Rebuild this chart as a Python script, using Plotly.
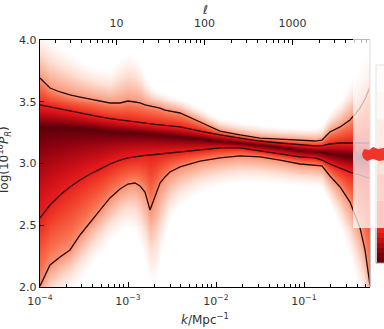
import numpy as np
import plotly.graph_objects as go

# ---------------- data ----------------
k = [1.00e-4, 1.30e-4, 1.69e-4, 2.19e-4, 2.85e-4, 3.70e-4, 4.81e-4, 6.24e-4, 8.11e-4,
     1.00e-3, 1.20e-3, 1.37e-3, 1.56e-3, 1.78e-3, 2.03e-3, 2.31e-3, 2.63e-3, 3.00e-3,
     3.90e-3, 6.58e-3, 1.11e-2, 1.87e-2, 3.16e-2, 5.34e-2, 9.01e-2, 0.133, 0.160, 0.197,
     0.257, 0.333, 0.433, 0.493, 0.562]

# upper / lower contours (log(10^10 P_R)) : 1 sigma, 2 sigma and where shading fades (3 sigma)
upper3 = [4.081, 4.016, 3.960, 3.903, 3.838, 3.798, 3.773, 3.757, 3.854, 3.903, 3.870, 3.806,
          3.709, 3.644, 3.611, 3.595, 3.579, 3.563, 3.530, 3.449, 3.368, 3.336, 3.312, 3.296,
          3.287, 3.287, 3.304, 3.417, 3.514, 3.660, 3.822, 3.903, 3.960]
upper2 = [3.692, 3.611, 3.579, 3.555, 3.538, 3.522, 3.506, 3.490, 3.490, 3.506, 3.498, 3.490,
          3.474, 3.466, 3.457, 3.449, 3.433, 3.425, 3.409, 3.336, 3.263, 3.231, 3.206, 3.198,
          3.190, 3.182, 3.190, 3.255, 3.296, 3.352, 3.449, 3.522, 3.619]
upper1 = [3.474, 3.457, 3.441, 3.425, 3.409, 3.393, 3.377, 3.364, 3.352, 3.344, 3.336, 3.328,
          3.324, 3.320, 3.316, 3.312, 3.308, 3.304, 3.296, 3.263, 3.231, 3.206, 3.182, 3.166,
          3.150, 3.142, 3.142, 3.158, 3.166, 3.166, 3.166, 3.166, 3.166]
median = [3.296, 3.296, 3.296, 3.292, 3.287, 3.279, 3.271, 3.263, 3.255, 3.252, 3.249, 3.247,
          3.243, 3.239, 3.235, 3.231, 3.227, 3.223, 3.215, 3.198, 3.182, 3.166, 3.150, 3.134,
          3.109, 3.098, 3.093, 3.081, 3.069, 3.061, 3.057, 3.053, 3.053]
lower1 = [2.559, 2.664, 2.745, 2.810, 2.866, 2.915, 2.955, 2.996, 3.028, 3.045, 3.053, 3.061,
          3.065, 3.069, 3.073, 3.077, 3.081, 3.085, 3.093, 3.109, 3.126, 3.126, 3.101, 3.077,
          3.053, 3.045, 3.028, 2.996, 2.964, 2.931, 2.907, 2.891, 2.883]
lower2 = [2.008, 2.178, 2.243, 2.300, 2.421, 2.526, 2.623, 2.721, 2.794, 2.834, 2.842, 2.818,
          2.769, 2.623, 2.737, 2.842, 2.891, 2.931, 2.972, 3.020, 3.045, 3.061, 3.053, 3.028,
          2.996, 2.988, 2.980, 2.899, 2.810, 2.688, 2.478, 2.300, 2.016]
lower3 = [1.733, 1.814, 1.895, 1.960, 2.041, 2.154, 2.259, 2.364, 2.445, 2.478, 2.445, 2.340,
          2.178, 2.016, 2.016, 2.219, 2.421, 2.543, 2.664, 2.769, 2.818, 2.850, 2.850, 2.834,
          2.818, 2.810, 2.802, 2.664, 2.478, 2.235, 1.935, 1.814, 1.652]

k_ticks = [1e-4, 1e-3, 1e-2, 1e-1]
k_ticktext = ["10<sup>−4</sup>", "10<sup>−3</sup>", "10<sup>−2</sup>", "10<sup>−1</sup>"]
ell_ticks = [10, 100, 1000]
ell_ticktext = ["10", "100", "1000"]
y_ticks = [2.0, 2.5, 3.0, 3.5, 4.0]
y_ticktext = ["2.0", "2.5", "3.0", "3.5", "4.0"]
ell_per_k = 10 ** 4.13
k_range = [1e-4, 0.562]

# ---------------- density (sigma level) from contours ----------------
lk = np.log10(k)
xr = np.log10(k_range)
xs = np.linspace(xr[0], xr[1], 332)
ys = np.linspace(2.0, 4.0, 250)
cols = {}
for name, arr in [("u3", upper3), ("u2", upper2), ("u1", upper1), ("m", median),
                  ("l1", lower1), ("l2", lower2), ("l3", lower3)]:
    cols[name] = np.interp(xs, lk, np.array(arr))
Z = np.zeros((len(ys), len(xs)))
for j in range(len(xs)):
    m = cols["m"][j]
    up = np.interp(ys, [m, cols["u1"][j], cols["u2"][j], cols["u3"][j]], [0, 1, 2, 3])
    lo = np.interp(ys, [cols["l3"][j], cols["l2"][j], cols["l1"][j], m], [3, 2, 1, 0])
    Z[:, j] = np.where(ys >= m, up, lo)

cscale = [[0.0, "#5a0008"], [0.06, "#7e000f"], [0.15, "#ac0812"], [0.25, "#d41219"],
          [0.333, "#e8221c"], [0.45, "#f2472f"], [0.58, "#f7704f"], [0.667, "#f99476"],
          [0.75, "#fbb9a3"], [0.85, "#fde0d5"], [0.93, "#fff3ef"], [1.0, "#ffffff"]]

fig = go.Figure()
fig.add_trace(go.Heatmap(x=xs, y=ys, z=Z, zmin=0, zmax=3, colorscale=cscale,
                         showscale=False, zsmooth="best", hoverinfo="skip"))
for arr in [upper2, upper1, lower1, lower2]:
    fig.add_trace(go.Scatter(x=lk, y=arr, mode="lines",
                             line=dict(color="#2a0606", width=1.3), hoverinfo="skip"))
# dummy trace to carry top axis
fig.add_trace(go.Scatter(x=[np.log10(ell_ticks[1])], y=[3.0], xaxis="x2", mode="markers",
                         marker=dict(opacity=0), hoverinfo="skip"))


def minor_vals(lo, hi):
    out = []
    for e in range(-6, 6):
        for mm in range(2, 10):
            v = np.log10(mm * 10.0 ** e)
            if lo < v < hi:
                out.append(float(v))
    return out


tickfont = dict(family="DejaVu Sans", size=11, color="#333333")
fig.update_layout(
    width=384, height=329,
    margin=dict(l=40, r=14, t=40, b=42),
    paper_bgcolor="white", plot_bgcolor="white", showlegend=False,
    font=dict(family="DejaVu Sans", size=11, color="#333333"),
    xaxis=dict(range=list(xr), tickvals=list(np.log10(k_ticks)), ticktext=k_ticktext,
               ticks="inside", ticklen=5, tickwidth=1, tickcolor="black",
               showline=True, linecolor="black", linewidth=1.3, mirror=False,
               showgrid=False, zeroline=False, tickfont=tickfont, automargin=False,
               ticklabelstandoff=3,
               minor=dict(tickmode="array", tickvals=minor_vals(xr[0], xr[1]),
                          ticks="inside", ticklen=3, tickcolor="black", showgrid=False)),
    xaxis2=dict(overlaying="x", side="top", anchor="y",
                range=[xr[0] + np.log10(ell_per_k), xr[1] + np.log10(ell_per_k)],
                tickvals=list(np.log10(ell_ticks)), ticktext=ell_ticktext,
                ticks="inside", ticklen=5, tickwidth=1, tickcolor="black",
                showline=True, linecolor="black", linewidth=1.3, automargin=False,
                showgrid=False, zeroline=False, tickfont=tickfont, ticklabelstandoff=7,
                minor=dict(tickmode="array",
                           tickvals=minor_vals(xr[0] + np.log10(ell_per_k), xr[1] + np.log10(ell_per_k)),
                           ticks="inside", ticklen=3, tickcolor="black", showgrid=False)),
    yaxis=dict(range=[2.0, 4.0], tickvals=y_ticks, ticktext=y_ticktext,
               ticks="inside", ticklen=4, tickcolor="black", automargin=False,
               showline=True, linecolor="black", linewidth=1.3, mirror=False,
               showgrid=False, zeroline=False, tickfont=tickfont),
)

W, X0, H, Y0 = 330.0, 40.0, 247.0, 287.0


def px(x):
    return (x - X0) / W


def py(y):
    return (Y0 - y) / H


shapes = []
# right spine (grey)
shapes.append(dict(type="line", xref="paper", yref="paper", x0=1, x1=1, y0=0, y1=1,
                   line=dict(color="#9c9c9c", width=1.2), layer="above"))
# partial colour bar at the right edge
cb_cols = ["#fff5f0", "#fee0d2", "#fcbba1", "#fc9272", "#fb6a4a", "#ef3b2c"]
top, split, bot = 65.0, 228.0, 263.0
step = (split - top) / len(cb_cols)
for i, c in enumerate(cb_cols):
    shapes.append(dict(type="rect", xref="paper", yref="paper", x0=px(377), x1=px(392),
                       y0=py(top + (i + 1) * step), y1=py(top + i * step),
                       fillcolor=c, line=dict(width=0), layer="above"))
cb_dark = ["#e8281e", "#d8181a", "#c40f16", "#a80a12", "#8c0610", "#76020e", "#67000d"]
step2 = (bot - split) / len(cb_dark)
for i, c in enumerate(cb_dark):
    shapes.append(dict(type="rect", xref="paper", yref="paper", x0=px(377), x1=px(392),
                       y0=py(split + (i + 1) * step2), y1=py(split + i * step2),
                       fillcolor=c, line=dict(width=0), layer="above"))
shapes.append(dict(type="rect", xref="paper", yref="paper", x0=px(376), x1=px(395),
                   y0=py(bot), y1=py(top), line=dict(color="#9a9a9a", width=1),
                   fillcolor="rgba(0,0,0,0)", layer="above"))
# translucent white overlay
shapes.append(dict(type="rect", xref="paper", yref="paper", x0=px(353), x1=px(395),
                   y0=py(split), y1=py(38), fillcolor="rgba(255,255,255,0.72)",
                   line=dict(width=0), layer="above"))
# red blob
blob = [(362, 154), (364, 149), (369, 150), (373, 147), (378, 149), (384, 148), (386, 152),
        (386, 160), (379, 161), (373, 159), (367, 161), (363, 158)]
path = "M " + " L ".join(f"{px(a):.4f},{py(b):.4f}" for a, b in blob) + " Z"
shapes.append(dict(type="path", xref="paper", yref="paper", path=path,
                   fillcolor="#f0352a", line=dict(width=0), layer="above"))
fig.update_layout(shapes=shapes)

fig.add_annotation(text="<i>ℓ</i>", xref="paper", yref="paper", x=px(205), y=py(10),
                   xanchor="center", yanchor="middle", showarrow=False,
                   font=dict(family="DejaVu Sans", size=12, color="#333333"))
fig.add_annotation(text="<i>k</i>/Mpc<sup>−1</sup>", xref="paper", yref="paper",
                   x=px(205), y=py(319), xanchor="center", yanchor="middle", showarrow=False,
                   font=dict(family="DejaVu Sans", size=12, color="#333333"))
fig.add_annotation(text="log(10<sup>10</sup><i>P</i><sub><i>R</i></sub>)", xref="paper",
                   yref="paper", x=px(-7), y=py(160), textangle=-90, showarrow=False,
                   font=dict(family="DejaVu Sans", size=12, color="#333333"))

fig.write_html("out.html", config=dict(displayModeBar=False, staticPlot=True),
               post_script="document.body.style.margin='0px';document.body.style.padding='0px';"
                           "document.documentElement.style.overflow='hidden';")
